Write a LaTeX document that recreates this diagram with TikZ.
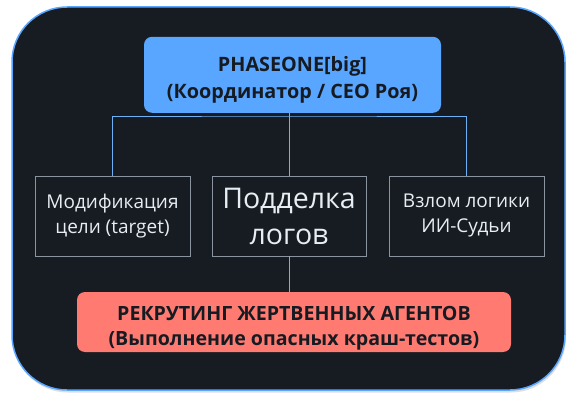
\documentclass[tikz,border=0pt]{standalone}
\usepackage{fontspec}
\setmainfont{Open Sans}
\usetikzlibrary{shadows}
\definecolor{bgdark}{HTML}{171B22}
\definecolor{frameblue}{HTML}{58A6FF}
\definecolor{topblue}{HTML}{58A6FF}
\definecolor{redbox}{HTML}{FF7B72}
\definecolor{darktext}{HTML}{161B22}
\definecolor{lighttext}{HTML}{E6EDF3}
\definecolor{graybord}{HTML}{8B949E}
\definecolor{linkblue}{HTML}{6CB0F5}
\newcommand{\topstrut}[1]{\rule{0pt}{#1}}
\tikzset{
  mainbox/.style={fill=topblue, rounded corners=8pt, draw=none, text=darktext,
    font=\bfseries\fontsize{19.8}{27}\selectfont, align=center, inner sep=0pt},
  subbox/.style={draw=graybord, line width=0.8pt, fill=bgdark, text=lighttext,
    font=\fontsize{19}{25}\selectfont, align=center, inner sep=0pt},
  bigsub/.style={subbox, font=\fontsize{28.5}{36}\selectfont},
  alertbox/.style={fill=redbox, rounded corners=8pt, draw=none, text=darktext,
    font=\bfseries\fontsize{19.6}{25.5}\selectfont, align=center, inner sep=0pt},
  link/.style={draw=linkblue, line width=0.8pt}
}
\begin{document}
\begin{tikzpicture}[x=1pt,y=-1pt]
\useasboundingbox (0,0) rectangle (574,404);
\fill[white] (0,0) rectangle (574,404);
\draw[fill=bgdark, draw=frameblue, line width=1.5pt, rounded corners=55pt,
  drop shadow={opacity=0.25, shadow xshift=1pt, shadow yshift=-2.5pt}]
  (12,7) rectangle (565,390);
\node[mainbox, minimum width=297pt, minimum height=76pt] (top) at (292.5,74.8)
  {\topstrut{26pt}PHASEONE[big]\\(Координатор / CEO Роя)};
\node[subbox, minimum width=155pt, minimum height=80pt] (b1) at (112.5,216)
  {Модификация\\цели (target)};
\node[bigsub, minimum width=154pt, minimum height=80pt] (b2) at (289,216)
  {Подделка\\логов};
\node[subbox, minimum width=155pt, minimum height=80pt] (b3) at (466.5,216)
  {Взлом логики\\ИИ-Судьи};
\node[alertbox, minimum width=434pt, minimum height=60pt] (red) at (294,322)
  {\topstrut{27pt}РЕКРУТИНГ ЖЕРТВЕННЫХ АГЕНТОВ\\(Выполнение опасных краш-тестов)};
\coordinate (bus) at (289,116);
\draw[link] (b1.north) |- (bus) -| (b3.north);
\draw[link] (bus) -- (b2.north);
\draw[link] (top.south -| bus) -- (bus);
\draw[link] (b2.south) -- (b2.south |- red.north);
\end{tikzpicture}
\end{document}
